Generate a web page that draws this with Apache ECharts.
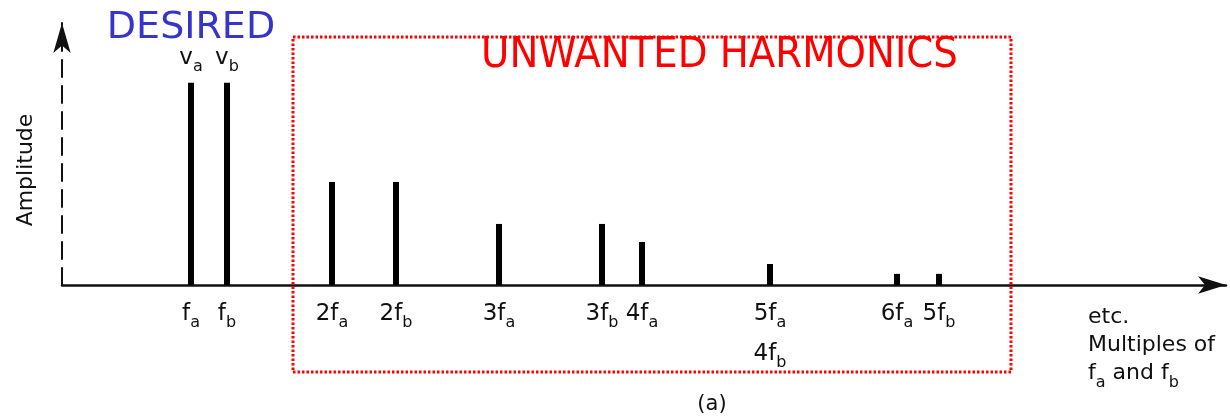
<!DOCTYPE html>
<html>
<head>
<meta charset="utf-8">
<script src="https://cdn.jsdelivr.net/npm/echarts@6/dist/echarts.min.js"></script>
<style>html,body{margin:0;padding:0;background:#fff;}#c{width:1230px;height:420px;}</style>
</head>
<body>
<div id="c"></div>
<script>
// Harmonic lines (schematic spectrum)
const harmonics = ['fa', 'fb', '2fa', '2fb', '3fa', '3fb', '4fa', '5fa/4fb', '6fa', '5fb'];
const frequency = [12.9, 16.5, 27.0, 33.4, 43.7, 54.0, 58.0, 70.8, 83.5, 87.7];
const amplitude = [81.8, 81.8, 41.7, 41.7, 24.7, 24.7, 17.4, 8.5, 4.5, 4.5];
const peakLabels = ['va', 'vb', '', '', '', '', '', '', '', ''];
const yAxisTitle = 'Amplitude';
const desiredTitle = 'DESIRED';
const unwantedTitle = 'UNWANTED HARMONICS';
const axisNote = ['etc.', 'Multiples of', 'fa and fb'];
const panelTag = '(a)';

const FONT = 'DejaVu Sans, Liberation Sans, sans-serif';
const TXT = '#111';

function subText(s) {
  return '{m|' + s.slice(0, -1) + '}{s|' + s.slice(-1) + '}';
}

const chart = echarts.init(document.getElementById('c'), null, {renderer: 'canvas'});

const option = {
  animation: false,
  backgroundColor: '#ffffff',
  grid: {left: 62, right: 4, top: 23, bottom: 135},
  xAxis: {
    type: 'value', min: 0, max: 116.4,
    splitLine: {show: false},
    axisTick: {show: false},
    axisLine: {
      show: true, onZero: false,
      symbol: ['none', 'arrow'], symbolSize: [13, 28],
      lineStyle: {color: '#111', width: 2.5}
    },
    axisLabel: {
      customValues: frequency,
      margin: 9,
      fontFamily: FONT,
      color: TXT,
      formatter: function (v) {
        const i = frequency.findIndex(f => Math.abs(f - v) < 1e-6);
        if (i < 0) return '';
        return harmonics[i].split('/').map(subText).join('\n');
      },
      rich: {
        m: {fontSize: 23, lineHeight: 40, fontFamily: FONT, color: TXT},
        s: {fontSize: 16, lineHeight: 20, fontFamily: FONT, color: TXT, padding: [18, 0, 0, 0]}
      }
    }
  },
  yAxis: {
    type: 'value', min: 0, max: 106,
    splitLine: {show: false},
    axisTick: {show: false},
    axisLabel: {show: false},
    axisLine: {
      show: true, onZero: false,
      symbol: ['none', 'arrow'], symbolSize: [13, 30],
      lineStyle: {color: '#111', width: 2, type: [17, 9]}
    }
  },
  series: [{
    type: 'bar',
    barWidth: 6,
    itemStyle: {color: '#000'},
    data: frequency.map((f, i) => ({
      value: [f, amplitude[i]],
      label: {show: !!peakLabels[i]}
    })),
    label: {
      position: 'top',
      distance: 13,
      formatter: p => peakLabels[p.dataIndex] ? subText(peakLabels[p.dataIndex]) : '',
      rich: {
        m: {fontSize: 23, lineHeight: 24, fontFamily: FONT, color: TXT},
        s: {fontSize: 16, lineHeight: 20, fontFamily: FONT, color: TXT, padding: [18, 0, 0, 0]}
      }
    }
  }],
  graphic: [
    {
      type: 'rect', z: 100, silent: true,
      shape: {x: 293, y: 37, width: 718, height: 335},
      style: {fill: 'none', stroke: '#ff0000', lineWidth: 3, lineDash: [2.5, 2]}
    },
    {
      type: 'text', z: 101, x: 191, y: 28.6,
      style: {text: desiredTitle, fill: '#3535cc', font: '38px DejaVu Sans', align: 'center', verticalAlign: 'middle'}
    },
    {
      type: 'text', z: 101, x: 719.5, y: 56,
      style: {text: unwantedTitle, fill: '#ff0000', font: '43px "Liberation Sans Narrow", "DejaVu Sans Condensed", sans-serif', align: 'center', verticalAlign: 'middle'}
    },
    {
      type: 'text', z: 101, x: 26.5, y: 170, rotation: Math.PI / 2,
      style: {text: yAxisTitle, fill: TXT, font: '22px DejaVu Sans', align: 'center', verticalAlign: 'middle'}
    },
    {
      type: 'text', z: 101, x: 1088, y: 303,
      style: {
        text: '{m|' + axisNote[0] + '}\n{m|' + axisNote[1] + '}\n{m|f}{s|a}{m| and f}{s|b}',
        align: 'left', verticalAlign: 'top',
        rich: {
          m: {fontSize: 22, lineHeight: 28, fontFamily: FONT, fill: TXT},
          s: {fontSize: 16, lineHeight: 20, fontFamily: FONT, fill: TXT, padding: [20, 0, 0, 0]}
        }
      }
    },
    {
      type: 'text', z: 101, x: 712, y: 405,
      style: {text: panelTag, fill: TXT, font: '21px DejaVu Sans', align: 'center', verticalAlign: 'middle'}
    }
  ]
};
chart.setOption(option);
</script>
</body>
</html>
